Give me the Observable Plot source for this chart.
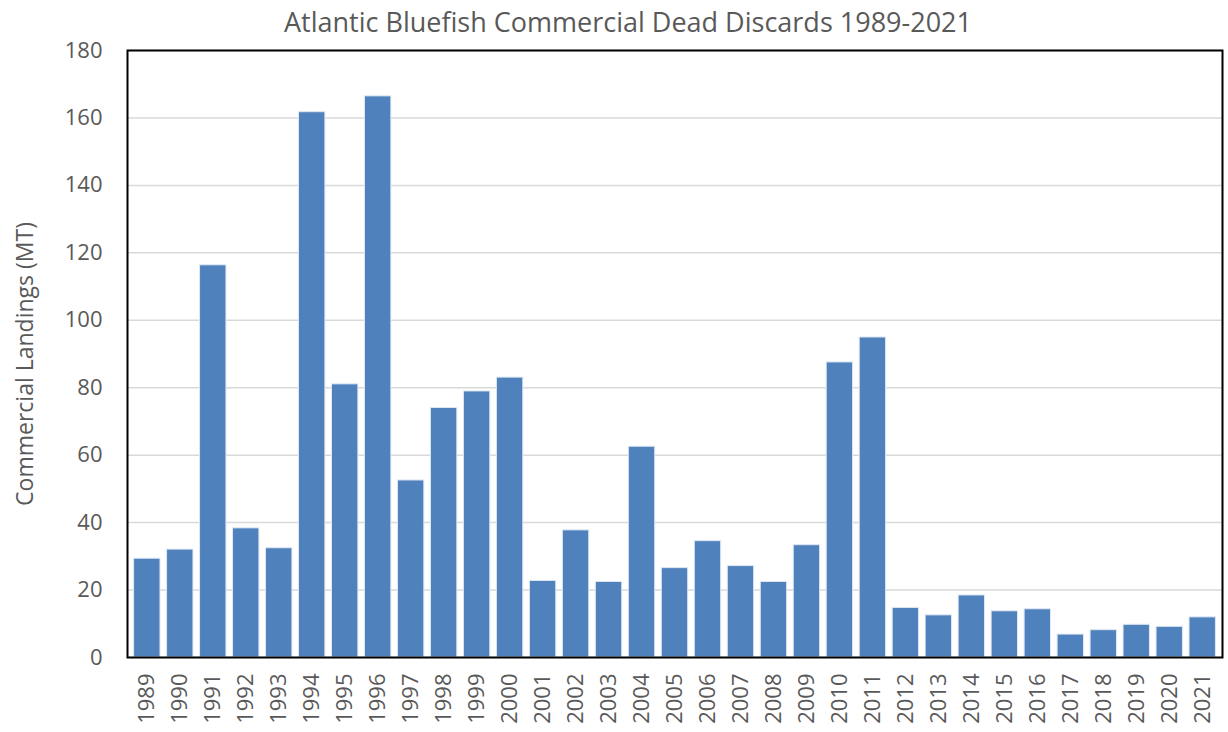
<!DOCTYPE html>
<html>
<head>
<meta charset="utf-8">
<script src="https://cdn.jsdelivr.net/npm/d3@7"></script>
<script src="https://cdn.jsdelivr.net/npm/@observablehq/plot@0.6"></script>
<style>
  html, body { margin: 0; padding: 0; background: #fff; }
  #title { height: 30px; line-height: 44px; text-align: center; font-family: "Open Sans", sans-serif; font-size: 27px; color: #595959; width: 1228px; padding-left: 28px; box-sizing: border-box; white-space: nowrap; }
  #chart svg { display: block; }
</style>
</head>
<body>
<div id="title">Atlantic Bluefish Commercial Dead Discards 1989-2021</div>
<div id="chart"></div>
<script>
const years = ["1989","1990","1991","1992","1993","1994","1995","1996","1997","1998","1999","2000","2001","2002","2003","2004","2005","2006","2007","2008","2009","2010","2011","2012","2013","2014","2015","2016","2017","2018","2019","2020","2021"];
const discards = [29.3,32,116.3,38.3,32.4,161.7,81,166.4,52.5,74,78.9,83,22.7,37.7,22.4,62.5,26.5,34.5,27.1,22.4,33.3,87.5,94.9,14.7,12.5,18.4,13.7,14.3,6.8,8.1,9.7,9.1,11.9];
const yTicks = [0,20,40,60,80,100,120,140,160,180];

const data = years.map((y, i) => ({year: y, value: discards[i]}));

const chart = Plot.plot({
  width: 1228,
  height: 702,
  marginLeft: 127,
  marginRight: 6,
  marginTop: 20,
  marginBottom: 75,
  style: {fontFamily: "'Open Sans', sans-serif", color: "#595959", background: "#fff"},
  x: {domain: years, padding: 0.2, label: null},
  y: {domain: [0, 180], label: null},
  marks: [
    Plot.gridY(yTicks, {stroke: "#d9d9d9", strokeOpacity: 1, strokeWidth: 1.5}),
    Plot.barY(data, {x: "year", y: "value", fill: "#4F81BD", stroke: "#dfe8f3", strokeWidth: 1}),
    Plot.frame({stroke: "#000", strokeWidth: 2}),
    Plot.axisY(yTicks, {tickSize: 0, tickPadding: 25, fontSize: 22, fill: "#595959", label: null}),
    Plot.axisX({tickRotate: -90, tickSize: 0, tickPadding: 16, fontSize: 22, fill: "#595959", label: null}),
    Plot.text(["Commercial Landings (MT)"], {frameAnchor: "left", textAnchor: "middle", dx: -102, dy: 10, rotate: -90, fontSize: 23, fill: "#595959"})
  ]
});
document.getElementById("chart").appendChild(chart);
</script>
</body>
</html>
